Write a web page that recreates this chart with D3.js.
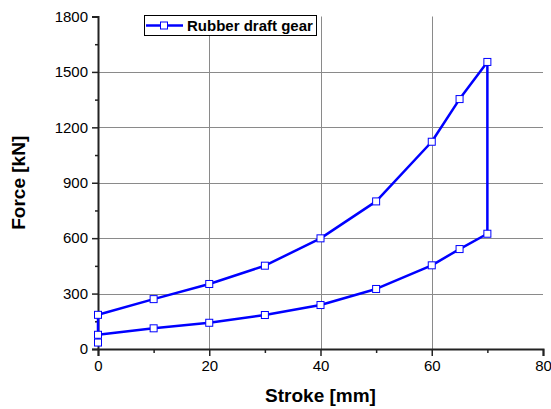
<!DOCTYPE html>
<html>
<head>
<meta charset="utf-8">
<script src="https://cdn.jsdelivr.net/npm/d3@7"></script>
<style>
  html, body { margin: 0; padding: 0; background: #fff; }
  svg { display: block; font-family: Arial, "Liberation Sans", sans-serif; }
</style>
</head>
<body>
<svg id="chart" width="551" height="409"></svg>
<script>
// Force–stroke hysteresis loop of a rubber draft gear
const strokeMm = [0, 0, 10, 20, 30, 40, 50, 60, 65, 70, 70, 65, 60, 50, 40, 30, 20, 10, 0];
const forceKN  = [35, 185, 270, 352, 451, 599, 799, 1122, 1353, 1554, 624, 541, 453, 325, 238, 184, 142, 112, 77];
const seriesName = "Rubber draft gear";

const xTicks = [0, 20, 40, 60, 80];
const xMinorTicks = [10, 30, 50, 70];
const yTicks = [0, 300, 600, 900, 1200, 1500, 1800];
const yMinorTicks = [150, 450, 750, 1050, 1350, 1650];
const xGrid = [20, 40, 60];
const yGrid = [300, 600, 900, 1200, 1500];

const svg = d3.select("#chart");
const x = d3.scaleLinear().domain([0, 80]).range([98, 543]);
const y = d3.scaleLinear().domain([0, 1800]).range([349, 16.5]);

// grid
const grid = svg.append("g").attr("stroke", "#8a8a8a").attr("stroke-width", 1);
grid.selectAll("line.gx").data(xGrid).join("line")
  .attr("x1", d => Math.round(x(d)) + 0.5).attr("x2", d => Math.round(x(d)) + 0.5)
  .attr("y1", y(1800)).attr("y2", y(0));
grid.selectAll("line.gy").data(yGrid).join("line")
  .attr("y1", d => Math.round(y(d)) + 0.5).attr("y2", d => Math.round(y(d)) + 0.5)
  .attr("x1", x(0)).attr("x2", x(80));

// axes
const xAxis = svg.append("g").attr("transform", `translate(0,${y(0)})`)
  .call(d3.axisBottom(x).tickValues(xTicks).tickSize(7).tickPadding(4).tickFormat(d3.format("d")));
svg.append("g").attr("transform", `translate(0,${y(0)})`)
  .call(d3.axisBottom(x).tickValues(xMinorTicks).tickSize(4).tickFormat(""))
  .call(g => g.select(".domain").remove());
const yAxis = svg.append("g").attr("transform", `translate(${x(0)},0)`)
  .call(d3.axisLeft(y).tickValues(yTicks).tickSize(6).tickPadding(4).tickFormat(d3.format("d")));
svg.append("g").attr("transform", `translate(${x(0)},0)`)
  .call(d3.axisLeft(y).tickValues(yMinorTicks).tickSize(3).tickFormat(""))
  .call(g => g.select(".domain").remove());

svg.selectAll(".domain").attr("stroke", "#222").attr("stroke-width", 2);
svg.selectAll(".tick line").attr("stroke", "#222").attr("stroke-width", 1.5);
svg.selectAll(".tick text").attr("font-size", 15).attr("fill", "#000")
  .attr("font-family", "Arial, 'Liberation Sans', sans-serif");

// axis titles
svg.append("text").attr("x", (x(0) + x(80)) / 2).attr("y", 402)
  .attr("text-anchor", "middle").attr("font-size", 19).attr("font-weight", "bold")
  .text("Stroke [mm]");
svg.append("text").attr("transform", `translate(25,${(y(0) + y(1800)) / 2}) rotate(-90)`)
  .attr("text-anchor", "middle").attr("font-size", 19).attr("font-weight", "bold")
  .text("Force [kN]");

// data line and markers
const pts = strokeMm.map((s, i) => [s, forceKN[i]]);
const line = d3.line().x(d => x(d[0])).y(d => y(d[1]));
svg.append("path").datum(pts).attr("d", line)
  .attr("fill", "none").attr("stroke", "#0000ff").attr("stroke-width", 2.5)
  .attr("stroke-linejoin", "round");
svg.selectAll("rect.pt").data(pts).join("rect").attr("class", "pt")
  .attr("x", d => x(d[0]) - 3.5).attr("y", d => y(d[1]) - 3.5)
  .attr("width", 7).attr("height", 7)
  .attr("fill", "#fff").attr("stroke", "#0000ff").attr("stroke-width", 1);

// legend
const lg = svg.append("g");
lg.append("rect").attr("x", 144.5).attr("y", 15.5).attr("width", 172).attr("height", 20)
  .attr("fill", "#fff").attr("stroke", "#000").attr("stroke-width", 1);
lg.append("line").attr("x1", 146).attr("x2", 183).attr("y1", 25.5).attr("y2", 25.5)
  .attr("stroke", "#0000ff").attr("stroke-width", 2.5);
lg.append("rect").attr("x", 160.5).attr("y", 22).attr("width", 7).attr("height", 7)
  .attr("fill", "#fff").attr("stroke", "#0000ff").attr("stroke-width", 1);
lg.append("text").attr("x", 187).attr("y", 31).attr("font-size", 15).attr("font-weight", "bold")
  .text(seriesName);
</script>
</body>
</html>
